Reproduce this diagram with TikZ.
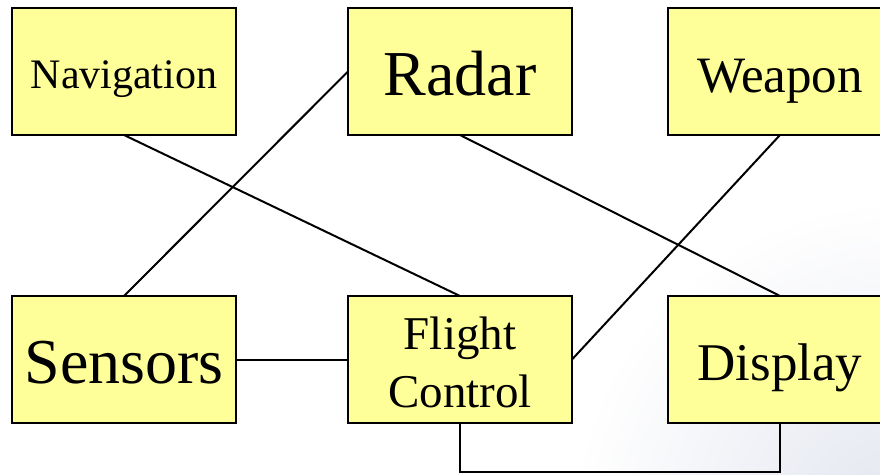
\documentclass[tikz,border=0pt]{standalone}
\usepackage{fontspec}
\setmainfont{Liberation Serif}
\definecolor{boxfill}{HTML}{FFFF99}
\definecolor{shadeblue}{HTML}{E2E5EF}
\begin{document}
\begin{tikzpicture}[x=1pt,y=-1pt,
  box/.style={draw=black, line width=2.2pt, fill=boxfill, minimum width=224pt, minimum height=127pt, inner sep=0pt, outer sep=0pt},
  lbl/.style={anchor=base, inner sep=0pt, align=center},
  wire/.style={draw=black, line width=2pt}]
\useasboundingbox (0,0) rectangle (880,474);
\clip (0,0) rectangle (880,474);
% faint background shading bottom right
\shade[inner color=shadeblue, outer color=white] (900,530) circle (330pt);
% boxes
\node[box] (nav) at (124,71.5) {};
\node[box] (radar) at (460,71.5) {};
\node[box] (weapon) at (780,71.5) {};
\node[box] (sensors) at (124,359.5) {};
\node[box] (fc) at (460,359.5) {};
\node[box] (disp) at (780,359.5) {};
% texts
\node[lbl] (tnav) at (124,88) {\fontsize{42}{50}\selectfont Navigation};
\node[lbl] (tradar) at (460,95) {\fontsize{64}{70}\selectfont Radar};
\node[lbl] (tweapon) at (780,92) {\fontsize{51}{60}\selectfont Weapon};
\node[lbl] (tsensors) at (124,383) {\fontsize{64}{70}\selectfont Sensors};
\node[lbl] (tfc1) at (460,349) {\fontsize{47}{58}\selectfont Flight};
\node[lbl] (tfc2) at (460,407) {\fontsize{47}{58}\selectfont Control};
\node[lbl] (tdisp) at (780,380) {\fontsize{53}{60}\selectfont Display};
% connectors
\draw[wire] (nav.south) -- (fc.north);
\draw[wire] (radar.west) -- (sensors.north);
\draw[wire] (radar.south) -- (disp.north);
\draw[wire] (fc.east) -- (weapon.south);
\draw[wire] (sensors.east) -- (fc.west);
\coordinate (bend) at (460,472);
\draw[wire] (fc.south) -- (bend) -| (disp.south);
\end{tikzpicture}
\end{document}
